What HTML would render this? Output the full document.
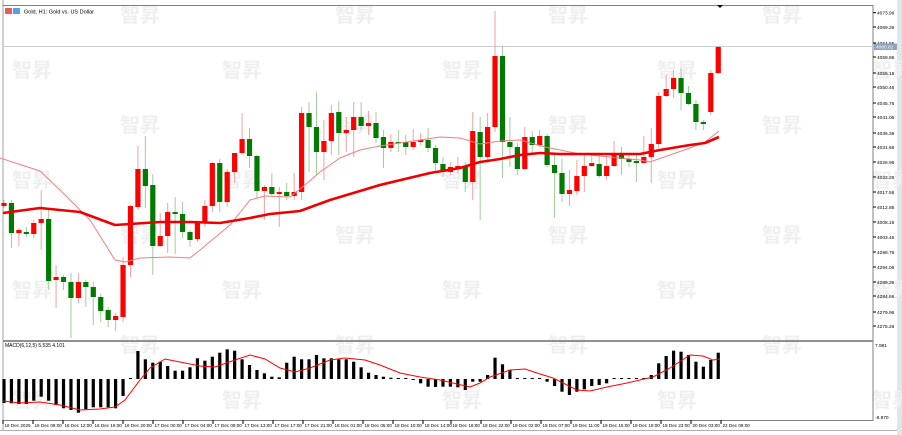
<!DOCTYPE html>
<html><head><meta charset="utf-8"><style>
html,body{margin:0;padding:0;background:#fff;width:902px;height:435px;overflow:hidden}
svg{display:block;font-family:"Liberation Sans","Noto Sans CJK SC",sans-serif}
</style></head><body>
<svg id="c" width="902" height="435" viewBox="0 0 902 435" xmlns="http://www.w3.org/2000/svg">
<rect x="0" y="0" width="902" height="435" fill="#fff"/>
<rect x="897" y="0" width="5" height="435" fill="#dfe6ec"/>
<g id="wm" fill="#efefef" font-size="20" font-weight="bold"></g>
<line x1="3" y1="0" x2="3" y2="431" stroke="#a0a0a0"/>
<line x1="3" y1="5.5" x2="873" y2="5.5" stroke="#808080"/>
<line x1="873" y1="5" x2="873" y2="421" stroke="#808080"/>
<line x1="3" y1="341" x2="873" y2="341" stroke="#909090" stroke-width="2"/>
<line x1="3" y1="420.5" x2="873" y2="420.5" stroke="#808080"/>
<line x1="0" y1="430.5" x2="897" y2="430.5" stroke="#b0b0b0"/>
<line x1="3" y1="46.5" x2="873" y2="46.5" stroke="#c8cdd2"/>
<rect x="5" y="8" width="7" height="6" fill="#e06060"/><rect x="13" y="8" width="7" height="6" fill="#5aa0e0"/>
<text x="24" y="13.5" font-size="5.5" fill="#000">Gold, H1:  Gold vs. US Dollar</text>
<text x="5" y="347" font-size="5" fill="#000">MACD(6,12,5) 5.535 4.101</text>
<path d="M717,5 L723,5 L720,8 Z" fill="#000"/>
<g id="g"></g>
</svg>
<script>
const NS="http://www.w3.org/2000/svg",g=document.getElementById('g');
function el(t,a,txt){const e=document.createElementNS(NS,t);for(const k in a)e.setAttribute(k,a[k]);if(txt!==undefined)e.textContent=txt;g.appendChild(e);return e;}
const wm=document.getElementById('wm');
[[120,0],[335,0],[548,0],[762,0],[12,55],[222,55],[442,55],[657,55],[872,55],[120,110],[335,110],[548,110],[762,110],[12,165],[222,165],[442,165],[657,165],[872,165],[120,220],[335,220],[548,220],[762,220],[12,275],[222,275],[442,275],[657,275],[872,275],[120,330],[335,330],[548,330],[762,330],[12,385],[222,385],[442,385],[657,385],[872,385]].forEach(p=>{const t=document.createElementNS(NS,'text');t.setAttribute('x',p[0]);t.setAttribute('y',p[1]+22);t.textContent='智昇';wm.appendChild(t);});
const C=[[206,203,200,208],[203,233,200,248],[233,230,228,246],[232,234,227,237],[234,223,220,238],[223,219,190,250],[219,281,210,290],[280,277,265,308],[277,282,275,290],[282,298,273,338],[298,282,273,303],[282,287,280,307],[287,297,282,325],[297,311,294,322],[310,320,307,327],[320,316,313,331],[317,265,257,322],[265,206,205,277],[207,169,146,210],[169,186,136,208],[185,246,174,275],[246,236,213,247],[236,212,203,253],[212,214,197,254],[214,232,202,238],[232,240,230,247],[239,223,222,242],[223,206,200,227],[206,163,162,212],[163,202,159,212],[202,172,169,207],[172,153,153,183],[153,139,113,154],[139,156,128,168],[156,191,155,198],[191,187,185,220],[187,194,173,196],[194,192,187,227],[192,196,183,200],[196,192,173,200],[192,113,107,200],[113,127,102,172],[127,152,92,175],[152,141,120,180],[141,113,105,155],[112,133,101,155],[133,130,117,152],[130,117,102,157],[117,126,102,130],[126,123,111,135],[123,138,112,143],[137,148,130,168],[148,142,134,152],[142,143,130,152],[142,147,135,155],[147,142,129,150],[142,140,133,145],[140,148,128,152],[148,163,145,172],[164,172,157,177],[172,167,162,175],[168,166,157,173],[166,182,162,192],[182,131,112,200],[132,157,117,220],[157,127,113,163],[127,56,11,132],[56,142,46,178],[142,147,117,167],[147,169,143,175],[169,137,127,170],[137,145,131,153],[145,136,130,147],[136,165,134,167],[165,173,155,218],[173,194,159,202],[194,190,170,206],[191,176,160,195],[176,166,155,192],[166,163,155,167],[164,176,155,178],[176,166,157,180],[166,154,141,167],[155,159,147,175],[159,162,153,167],[161,163,155,182],[163,157,136,163],[157,144,128,183],[144,96,92,148],[96,89,75,97],[89,78,70,98],[78,93,68,110],[93,104,86,105],[104,122,100,130],[122,124,120,130],[112,73,70,115],[73,47,46,74]];
const X=i=>4+i*7.44;
C.forEach((c,i)=>{const x=X(i),up=c[1]<c[0];
 el('line',{x1:x,x2:x,y1:c[2],y2:c[3],stroke:up?'#f4a0a0':'#a0cc9c','stroke-width':1});
 const t=Math.min(c[0],c[1]),h=Math.max(Math.abs(c[0]-c[1]),1.5);
 el('rect',{x:x-2.6,y:t,width:5.2,height:h,fill:up?'#ff0000':'#007a00'});});
const P=a=>'M'+a.map(p=>p.join(',')).join(' L');
el('path',{d:P([[0,158],[40,171],[60,190],[90,220],[115,260],[125,262],[140,258],[170,257],[190,258],[200,250],[230,225],[250,200],[265,196],[290,197],[305,185],[320,172],[340,158],[360,150],[380,146],[420,140],[440,137],[460,138],[480,144],[500,141],[520,140],[545,147],[560,150],[580,154],[620,158],[640,160],[650,162],[670,155],[690,148],[705,142],[719,131]]),fill:'none',stroke:'#f08080','stroke-width':1});
el('path',{d:P([[3,213],[40,208],[80,212],[115,225],[130,224],[160,222],[190,222],[220,223],[250,218],[270,214],[300,211],[330,200],[380,185],[430,173],[460,168],[480,162],[500,159],[520,155],[540,153],[560,154],[600,154],[640,154],[660,150],[690,145],[705,143],[719,137]]),fill:'none',stroke:'#ee0000','stroke-width':2.6,'stroke-linejoin':'round'});
const M=[-24,-24.3,-25,-25,-21.7,-17.7,-21.7,-26,-29.3,-31,-33.7,-30.3,-28.3,-28.3,-28.3,-29.3,-17,1,28,19.7,16.3,17.3,13,8.3,8.3,11.7,20.7,18.3,22.3,26.3,29.7,28.3,19.7,14,9,5.7,2.3,1.7,16.3,22.3,19.7,19.7,24,20.7,20.7,19.7,19.7,17.3,11.7,6.3,4,2.3,1.3,0.7,0.4,-0.4,-4.3,-7.7,-8,-7.7,-7.7,-8.3,-11,-2.7,-2.7,4,21.3,14.7,9,0.5,0.5,0.5,0.5,-2.7,-7,-12.7,-16,-12.7,-10.3,-7,-6,-4.3,0.5,0.5,0.5,0.5,0.5,4,15.7,23,28.3,27.3,24,17.3,12.3,19,26.3];
const Z=379;
M.forEach((v,i)=>{const x=X(i);const h=Math.max(Math.abs(v),1);el('rect',{x:x-1.6,y:v>0?Z-h:Z,width:3.2,height:h,fill:'#000'});});
el('path',{d:P([[3,401],[20,403],[40,402],[60,405],[80,410],[100,409],[115,407],[125,400],[140,380],[150,368],[165,359],[180,362],[200,366],[215,367],[235,360],[250,355],[265,359],[280,368],[295,372],[310,368],[330,360],[345,358],[365,360],[380,365],[400,373],[420,377],[440,380],[470,387],[480,383],[490,377],[510,370],[525,369],[537,373],[553,378],[577,390],[590,391],[607,387],[627,383],[653,377],[670,368],[690,355],[703,356],[713,360],[720,359]]),fill:'none',stroke:'#ff0000','stroke-width':1});
const L=[[12.7,'4073.96'],[27,'4069.26'],[43,'4064.55'],[57,'4059.86'],[73,'4055.16'],[87,'4050.46'],[103,'4045.76'],[117,'4041.06'],[133,'4036.36'],[147,'4031.66'],[162,'4026.96'],[177,'4022.26'],[192,'4017.56'],[207,'4012.86'],[222,'4008.16'],[237,'4003.46'],[252,'4298.76'],[267,'4294.06'],[282,'4289.36'],[296,'4284.66'],[312,'4279.96'],[326,'4275.26']];
L.forEach(l=>{el('line',{x1:873,x2:876,y1:l[0],y2:l[0],stroke:'#000'});el('text',{x:877,y:l[0]+2,'font-size':4.8,fill:'#000'},l[1]);});
el('rect',{x:874,y:43.5,width:23,height:6.5,fill:'#8ea4bc'});
el('text',{x:876,y:48.7,'font-size':4.8,fill:'#fff'},'4060.81');
el('text',{x:875,y:347,'font-size':4.8,fill:'#000'},'7.981');
el('text',{x:875,y:419,'font-size':4.8,fill:'#000'},'-8.970');
const XL=[[3,'16 Dec 2025'],[33,'16 Dec 08:00'],[63,'16 Dec 12:00'],[93,'16 Dec 16:00'],[123,'16 Dec 20:00'],[153,'17 Dec 00:00'],[183,'17 Dec 04:00'],[213,'17 Dec 09:00'],[243,'17 Dec 13:00'],[273,'17 Dec 17:00'],[303,'17 Dec 21:00'],[333,'18 Dec 01:00'],[363,'18 Dec 05:00'],[393,'18 Dec 10:00'],[423,'18 Dec 14:00'],[451,'18 Dec 18:00'],[481,'18 Dec 22:00'],[511,'19 Dec 02:00'],[541,'19 Dec 07:00'],[571,'19 Dec 11:00'],[601,'19 Dec 15:00'],[631,'19 Dec 19:00'],[661,'19 Dec 23:00'],[691,'20 Dec 03:00'],[721,'22 Dec 08:00']];
XL.forEach(l=>{el('line',{x1:l[0],x2:l[0],y1:420,y2:424,stroke:'#000'});el('text',{x:l[0]+1.5,y:427,'font-size':4.6,fill:'#000'},l[1]);});
</script>
</body></html>
